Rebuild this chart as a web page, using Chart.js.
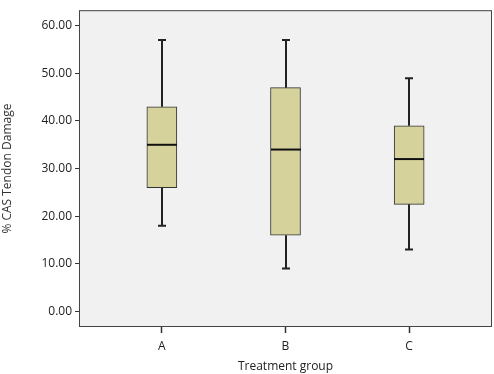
<!DOCTYPE html>
<html>
<head>
<meta charset="utf-8">
<script src="https://cdn.jsdelivr.net/npm/chart.js@4/dist/chart.umd.min.js"></script>
<style>
  html, body { margin: 0; padding: 0; background: #fff; }
  #wrap { width: 494px; height: 374px; }
</style>
</head>
<body>
<div id="wrap"><canvas id="box-chart" width="494" height="374"></canvas></div>
<script>
// box plot summary per treatment group
const groups = ['A', 'B', 'C'];
const positions = [1, 2, 3];
const whiskerLow = [18, 9, 13];
const quartile1 = [26, 16, 22.5];
const medians = [35, 34, 32];
const quartile3 = [43, 47, 39];
const whiskerHigh = [57, 57, 49];
const yTicks = [0, 10, 20, 30, 40, 50, 60];

const FONT = '"Open Sans", "DejaVu Sans", sans-serif';

// plot area background + frame
const framePlugin = {
    id: 'frame',
    beforeDraw(chart) {
        const { ctx, chartArea: a } = chart;
        ctx.save();
        ctx.fillStyle = '#f0f1f0';
        ctx.fillRect(a.left, a.top, a.right - a.left, a.bottom - a.top);
        ctx.restore();
    },
    afterDraw(chart) {
        const { ctx, chartArea: a } = chart;
        ctx.save();
        ctx.strokeStyle = '#444';
        ctx.lineWidth = 1;
        ctx.strokeRect(a.left + 0.5, a.top + 0.5, a.right - a.left - 1, a.bottom - a.top - 1);
        ctx.restore();
    }
};

// whiskers, caps and median lines
const whiskerPlugin = {
    id: 'whiskers',
    afterDatasetsDraw(chart) {
        const { ctx } = chart;
        const x = chart.scales.x, y = chart.scales.y;
        const half = 15, cap = 4;
        ctx.save();
        positions.forEach((p, i) => {
            const px = Math.round(x.getPixelForValue(p));
            const lo = y.getPixelForValue(whiskerLow[i]);
            const q1 = y.getPixelForValue(quartile1[i]);
            const q3 = y.getPixelForValue(quartile3[i]);
            const hi = y.getPixelForValue(whiskerHigh[i]);
            const md = y.getPixelForValue(medians[i]);
            ctx.strokeStyle = '#222';
            ctx.lineWidth = 2;
            ctx.beginPath();
            ctx.moveTo(px, q3); ctx.lineTo(px, hi);
            ctx.moveTo(px - cap, hi); ctx.lineTo(px + cap, hi);
            ctx.moveTo(px, q1); ctx.lineTo(px, lo);
            ctx.moveTo(px - cap, lo); ctx.lineTo(px + cap, lo);
            ctx.stroke();
            ctx.strokeStyle = '#111';
            ctx.beginPath();
            ctx.moveTo(px - half, md); ctx.lineTo(px + half, md);
            ctx.stroke();
        });
        ctx.restore();
    }
};

const boxData = positions.map((p, i) => ({ x: p, y: [quartile1[i], quartile3[i]] }));

new Chart(document.getElementById('box-chart'), {
    type: 'bar',
    data: {
        datasets: [{
            data: boxData,
            backgroundColor: '#d6d29c',
            borderColor: '#333',
            borderWidth: 1,
            borderSkipped: false,
            barThickness: 30
        }]
    },
    options: {
        responsive: false,
        animation: false,
        devicePixelRatio: 1,
        layout: { padding: { top: 1, right: 2, left: 0, bottom: 0 } },
        plugins: { legend: { display: false }, tooltip: { enabled: false } },
        scales: {
            x: {
                type: 'linear',
                offset: false,
                min: 0.33,
                max: 3.67,
                afterBuildTicks: scale => { scale.ticks = positions.map(v => ({ value: v })); },
                afterFit: scale => { scale.height = 47; },
                grid: { offset: false, drawOnChartArea: false, drawTicks: true, tickLength: 6, tickWidth: 1.5, tickColor: '#333', color: '#333' },
                border: { display: false },
                ticks: {
                    color: '#222',
                    font: { family: FONT, size: 12 },
                    padding: 6,
                    callback: v => groups[v - 1]
                },
                title: {
                    display: true,
                    text: 'Treatment group',
                    color: '#222',
                    font: { family: FONT, size: 12 },
                    padding: { top: 1, bottom: 0 }
                }
            },
            y: {
                min: -3.27,
                max: 63.27,
                afterBuildTicks: scale => { scale.ticks = yTicks.map(v => ({ value: v })); },
                afterFit: scale => { scale.width = 79; },
                grid: { drawOnChartArea: false, drawTicks: true, tickLength: 4, tickColor: '#333', color: '#333' },
                border: { display: false },
                ticks: {
                    color: '#222',
                    font: { family: FONT, size: 12 },
                    padding: 3,
                    callback: v => v.toFixed(2)
                },
                title: {
                    display: true,
                    text: '% CAS Tendon Damage',
                    color: '#333',
                    font: { family: FONT, size: 12 },
                    padding: { top: 0, bottom: 0 }
                }
            }
        }
    },
    plugins: [framePlugin, whiskerPlugin]
});
</script>
</body>
</html>
